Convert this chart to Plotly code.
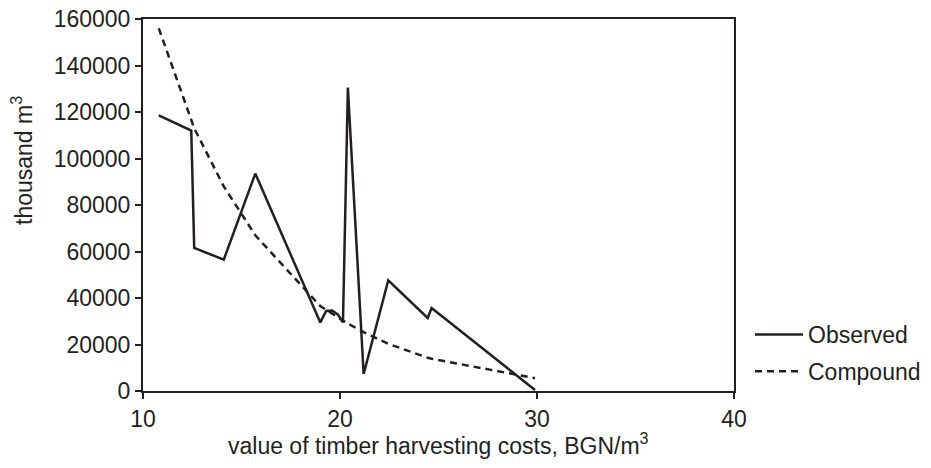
import plotly.graph_objects as go

# Observed data points (x: timber harvesting cost BGN/m3, y: thousand m3)
obs_x = [10.8, 12.45, 12.6, 14.1, 15.7, 19.0, 19.3, 19.6, 19.9, 20.15, 20.4, 21.2, 22.45, 24.45, 24.65, 29.9]
obs_y = [118500, 112000, 61500, 56500, 93500, 29500, 34400, 34600, 32800, 29500, 130500, 7300, 47600, 31400, 35700, 400]

# Compound model curve, read at the same x values
cmp_x = [10.8, 12.45, 12.6, 14.1, 15.7, 19.0, 19.3, 19.6, 19.9, 20.15, 20.4, 21.2, 22.45, 24.45, 24.65, 29.9]
cmp_y = [156000, 116000, 113000, 88000, 67000, 36500, 35000, 33300, 31600, 30200, 29000, 25300, 20300, 14300, 13900, 5500]

x_ticks = [10, 20, 30, 40]
y_ticks = [0, 20000, 40000, 60000, 80000, 100000, 120000, 140000, 160000]

INK = "#231f20"
FONT = "Liberation Sans, Arial, sans-serif"
FS = 23

# plot area in pixels (for placing free text)
L, R, T, B = 143, 734, 19, 391


def px_x(px):
    return (px - L) / (R - L)


def px_y(py):
    return (B - py) / (B - T)


fig = go.Figure()
fig.add_trace(go.Scatter(x=obs_x, y=obs_y, mode="lines", name="Observed",
                         line=dict(color=INK, width=2.5), legendgroup="a"))
fig.add_trace(go.Scatter(x=cmp_x, y=cmp_y, mode="lines", name="Compound",
                         line=dict(color=INK, width=2.5, dash="7px,5px"), legendgroup="b"))

axis_common = dict(showgrid=False, zeroline=False, showline=True, linecolor=INK,
                   linewidth=2, mirror=True, ticks="outside", ticklen=6,
                   tickwidth=1.5, tickcolor=INK,
                   tickfont=dict(family=FONT, size=FS, color=INK))

fig.update_xaxes(range=[10, 40], tickvals=x_ticks, ticktext=[str(v) for v in x_ticks],
                 automargin=False, **axis_common)
fig.update_yaxes(range=[0, 160000], tickvals=y_ticks, ticktext=[str(v) for v in y_ticks],
                 automargin=False, **axis_common)

fig.add_annotation(text="value of timber harvesting costs, BGN/m<sup>3</sup>",
                   xref="paper", yref="paper", x=0.5, y=px_y(444),
                   yanchor="middle", showarrow=False,
                   font=dict(family=FONT, size=23, color=INK))
fig.add_annotation(text="thousand m<sup>3</sup>", textangle=-90,
                   xref="paper", yref="paper", x=px_x(22), y=px_y(161),
                   xanchor="center", yanchor="middle", showarrow=False,
                   font=dict(family=FONT, size=FS, color=INK))

fig.update_layout(
    width=931, height=468,
    margin=dict(l=L, r=931 - R, t=T, b=468 - B, autoexpand=False),
    plot_bgcolor="white", paper_bgcolor="white",
    showlegend=True,
    legend=dict(xref="container", yref="container",
                x=750 / 931, y=1 - 353 / 468, xanchor="left", yanchor="middle",
                font=dict(family=FONT, size=FS, color=INK),
                itemwidth=48, tracegroupgap=4, bgcolor="rgba(0,0,0,0)"),
)

fig.write_html("out.html")
